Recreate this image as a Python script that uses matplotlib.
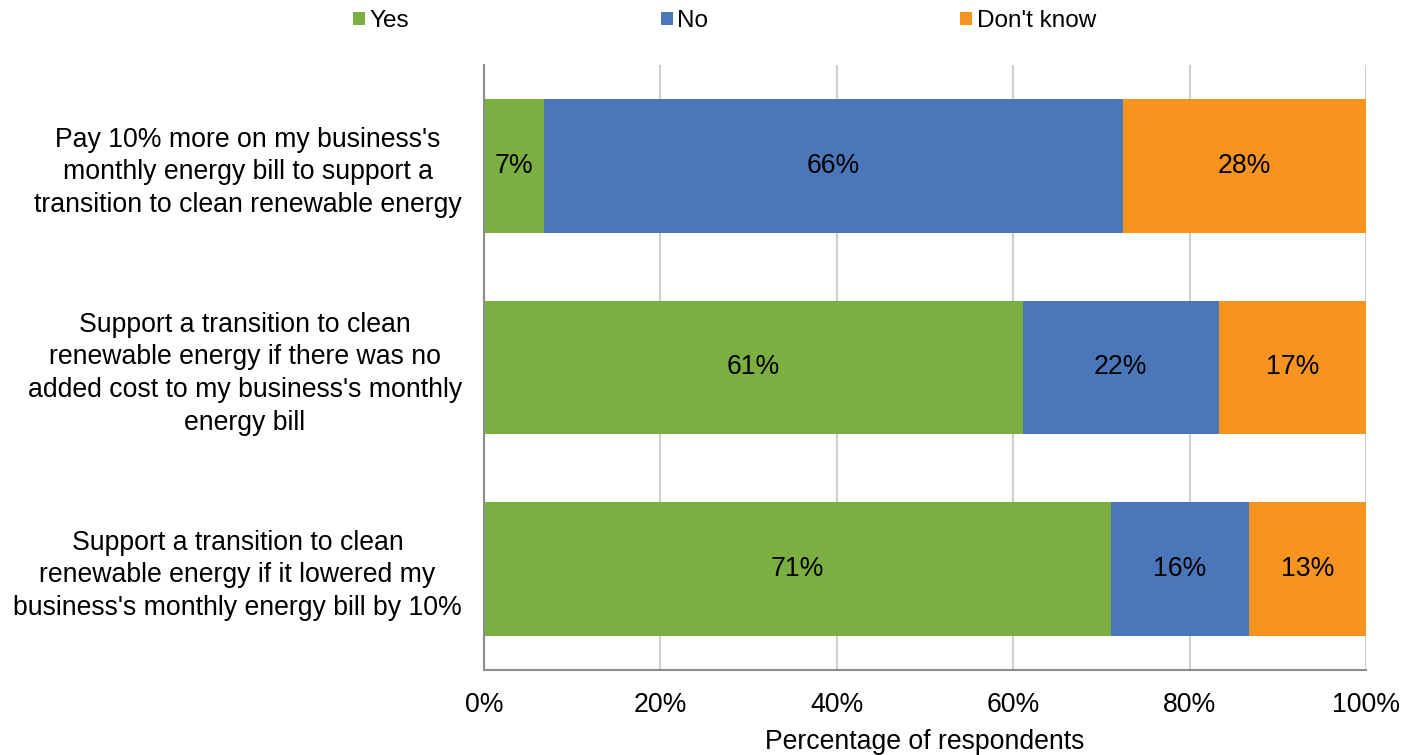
import matplotlib
matplotlib.use("Agg")
import matplotlib.pyplot as plt
from matplotlib.patches import Patch
import numpy as np

plt.rcParams['font.family'] = ['Liberation Sans', 'DejaVu Sans']

questions = [
    "Pay 10% more on my business's\nmonthly energy bill to support a\ntransition to clean renewable energy",
    "Support a transition to clean\nrenewable energy if there was no\nadded cost to my business's monthly\nenergy bill",
    "Support a transition to clean\nrenewable energy if it lowered my\nbusiness's monthly energy bill by 10%",
]
series_names = ["Yes", "No", "Don't know"]
yes_vals = [6.8, 61.1, 71.1]
no_vals = [65.6, 22.2, 15.6]
dk_vals = [27.6, 16.7, 13.3]
colors = ["#7BAF42", "#4A77BA", "#F7941F"]
xticks = [0, 20, 40, 60, 80, 100]

FS = 19.2
LEG_FS = 17.5

fig = plt.figure(figsize=(14.04, 7.55), dpi=100)
ax = fig.add_axes([484 / 1404, 1 - 670 / 755, 882 / 1404, 605 / 755])

y = np.arange(len(questions))
left = np.zeros(len(questions))
for name, vals, col in zip(series_names, [yes_vals, no_vals, dk_vals], colors):
    vals = np.array(vals)
    ax.barh(y, vals, left=left, height=0.663, color=col, label=name, zorder=3)
    for yi, l, v in zip(y, left, vals):
        ax.text(l + v / 2, yi, f"{v:.0f}%", ha="center", va="center",
                fontsize=FS, color="black", zorder=4)
    left += vals

ax.set_xlim(0, 100)
ax.set_ylim(2.5, -0.5)
ax.set_xticks(xticks)
ax.set_xticklabels([f"{t}%" for t in xticks], fontsize=FS)
ax.set_yticks(y)
ax.set_yticklabels(questions, fontsize=FS, ha="right", multialignment="center",
                   linespacing=1.33)
ax.tick_params(axis="y", length=0, pad=16)
ax.tick_params(axis="x", length=0, pad=16)
ax.xaxis.grid(True, color="#D0D0D0", linewidth=1.5, zorder=0)
ax.set_axisbelow(True)
for s in ["top", "right"]:
    ax.spines[s].set_visible(False)
for s in ["left", "bottom"]:
    ax.spines[s].set_color("#8C8C8C")
    ax.spines[s].set_linewidth(1.5)
ax.spines["left"].set_zorder(5)
ax.set_xlabel("Percentage of respondents", fontsize=FS, labelpad=8)

handles = [Patch(facecolor=c, edgecolor="none") for c in colors]
fig.legend(handles, series_names, loc="center", bbox_to_anchor=(0.516, 0.972),
           ncol=3, frameon=False, fontsize=LEG_FS, handlelength=0.5, handleheight=0.5,
           handletextpad=0.17, columnspacing=10.37, borderaxespad=0, borderpad=0)

fig.savefig("out.png", dpi=100)
